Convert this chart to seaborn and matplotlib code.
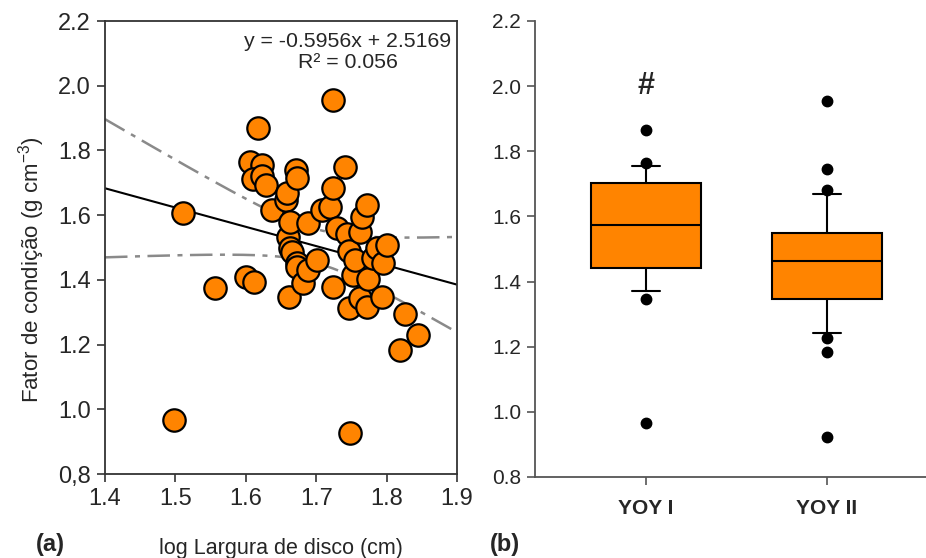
import numpy as np
import matplotlib
matplotlib.use("Agg")
import matplotlib.pyplot as plt
import seaborn as sns
import pandas as pd

# ---- panel (a): condition factor vs log disc width ----
log_disc_width = [
    1.498, 1.511, 1.556, 1.600, 1.612, 1.606, 1.617, 1.623, 1.610, 1.623,
    1.629, 1.637, 1.657, 1.659, 1.660, 1.663, 1.663, 1.666, 1.661, 1.671,
    1.673, 1.673, 1.673, 1.681, 1.688, 1.688, 1.701, 1.708, 1.720, 1.724,
    1.724, 1.724, 1.730, 1.741, 1.744, 1.746, 1.746, 1.748, 1.752, 1.755,
    1.762, 1.762, 1.765, 1.772, 1.772, 1.773, 1.781, 1.786, 1.793, 1.795,
    1.801, 1.819, 1.826, 1.845,
]
condition_factor = [
    0.967, 1.607, 1.375, 1.409, 1.393, 1.764, 1.869, 1.755, 1.713, 1.720,
    1.692, 1.616, 1.647, 1.668, 1.533, 1.579, 1.498, 1.486, 1.347, 1.740,
    1.715, 1.452, 1.440, 1.390, 1.576, 1.430, 1.461, 1.616, 1.625, 1.684,
    1.956, 1.378, 1.560, 1.749, 1.542, 1.489, 1.313, 0.927, 1.415, 1.461,
    1.548, 1.344, 1.594, 1.631, 1.316, 1.403, 1.468, 1.498, 1.347, 1.452,
    1.508, 1.183, 1.295, 1.230,
]
slope, intercept, r_squared = -0.5956, 2.5169, 0.056

# ---- panel (b): box summaries per year class ----
group_labels = ["YOY I", "YOY II"]
box_q1 = [1.441, 1.347]
box_median = [1.574, 1.463]
box_q3 = [1.703, 1.550]
whisker_low = [1.372, 1.241]
whisker_high = [1.755, 1.669]
outliers_yoy1 = [1.865, 1.763, 1.345, 0.967]
outliers_yoy2 = [1.955, 1.746, 1.681, 1.228, 1.185, 0.924]

sns.set_theme(style="white")
plt.rcParams["font.family"] = ["Liberation Sans", "DejaVu Sans"]
plt.rcParams["mathtext.default"] = "regular"

orange = "#FF8400"
W, H = 926, 558
fig = plt.figure(figsize=(W / 100, H / 100), dpi=100)

def frac(x0, y0, x1, y1):
    return [x0 / W, 1 - y1 / H, (x1 - x0) / W, (y1 - y0) / H]

ax1 = fig.add_axes(frac(105, 21, 457, 474))
ax2 = fig.add_axes(frac(535, 21, 926, 477))

df = pd.DataFrame({"x": log_disc_width, "y": condition_factor})

# regression line from the stated coefficients, 95% confidence band of the mean
xs = np.linspace(1.4, 1.9, 200)
yhat = intercept + slope * xs
x = np.asarray(log_disc_width)
y = np.asarray(condition_factor)
n = len(x)
resid = y - (intercept + slope * x)
s = np.sqrt(np.sum(resid ** 2) / (n - 2))
sxx = np.sum((x - x.mean()) ** 2)
half = 2.006 * s * np.sqrt(1 / n + (xs - x.mean()) ** 2 / sxx)

ax1.plot(xs, yhat + half, color="#8a8a8a", lw=1.8, ls=(0, (9, 3, 2, 3)), zorder=1)
ax1.plot(xs, yhat - half, color="#8a8a8a", lw=1.8, ls=(0, (9, 3, 2, 3)), zorder=1)
ax1.plot(xs, yhat, color="black", lw=1.5, zorder=2)

sns.scatterplot(data=df, x="x", y="y", ax=ax1, s=260, color=orange,
                edgecolor="black", linewidth=1.6, zorder=3, legend=False)

ax1.set_xlim(1.4, 1.9)
ax1.set_ylim(0.8, 2.2)
ax1.set_xticks([1.4, 1.5, 1.6, 1.7, 1.8, 1.9])
ax1.set_xticklabels(["1.4", "1.5", "1.6", "1.7", "1.8", "1.9"])
yt = [0.8, 1.0, 1.2, 1.4, 1.6, 1.8, 2.0, 2.2]
ax1.set_yticks(yt)
ax1.set_yticklabels(["0,8", "1.0", "1.2", "1.4", "1.6", "1.8", "2.0", "2.2"])
ax1.set_xlabel("log Largura de disco (cm)", fontsize=15.5, labelpad=20)
ax1.set_ylabel("Fator de condição (g cm$^{-3}$)", fontsize=16)
ax1.yaxis.set_label_coords(-0.165, 0.45)
for sp in ax1.spines.values():
    sp.set_visible(True)
    sp.set_color("#333333")
    sp.set_linewidth(1.3)
ax1.tick_params(axis="both", which="both", direction="out", length=6, width=1.2,
                color="#333333", labelsize=17, bottom=True, left=True, top=False,
                right=False, pad=4)
ax1.text(0.69, 0.975, f"y = {slope}x + {intercept}\nR² = {r_squared}",
         transform=ax1.transAxes, ha="center", va="top", fontsize=15.3,
         linespacing=1.12)

# ---- panel (b) boxes ----
stats = []
for i, lab in enumerate(group_labels):
    stats.append({
        "label": lab,
        "q1": box_q1[i], "med": box_median[i], "q3": box_q3[i],
        "whislo": whisker_low[i], "whishi": whisker_high[i],
        "fliers": [outliers_yoy1, outliers_yoy2][i],
    })
ax2.bxp(stats, positions=[0, 1], widths=0.607, patch_artist=True,
        capwidths=0.155,
        boxprops=dict(facecolor=orange, edgecolor="black", linewidth=1.5),
        medianprops=dict(color="black", linewidth=1.5),
        whiskerprops=dict(color="black", linewidth=1.5),
        capprops=dict(color="black", linewidth=1.5),
        flierprops=dict(marker="o", markerfacecolor="black",
                        markeredgecolor="black", markersize=7.5))
ax2.set_xlim(-0.61, 1.546)
ax2.set_ylim(0.8, 2.2)
ax2.set_yticks(yt)
ax2.set_yticklabels(["0.8", "1.0", "1.2", "1.4", "1.6", "1.8", "2.0", "2.2"])
ax2.set_xticks([0, 1])
ax2.set_xticklabels(group_labels, fontweight="bold", fontsize=15)
for side in ["top", "right"]:
    ax2.spines[side].set_visible(False)
for side in ["left", "bottom"]:
    ax2.spines[side].set_color("#555555")
    ax2.spines[side].set_linewidth(1.3)
ax2.tick_params(axis="y", direction="out", length=6, width=1.2, color="#555555",
                labelsize=15, left=True, pad=4)
ax2.tick_params(axis="x", direction="out", length=6, width=1.2, color="#555555",
                bottom=True, pad=10)
ax2.text(0, 2.0, "#", ha="center", va="center", fontsize=22, fontweight="bold")

fig.text(50 / W, 1 - 545 / H, "(a)", fontsize=17, fontweight="bold",
         ha="center", va="center")
fig.text(505 / W, 1 - 545 / H, "(b)", fontsize=17, fontweight="bold",
         ha="center", va="center")

fig.savefig("out.png", dpi=100)
